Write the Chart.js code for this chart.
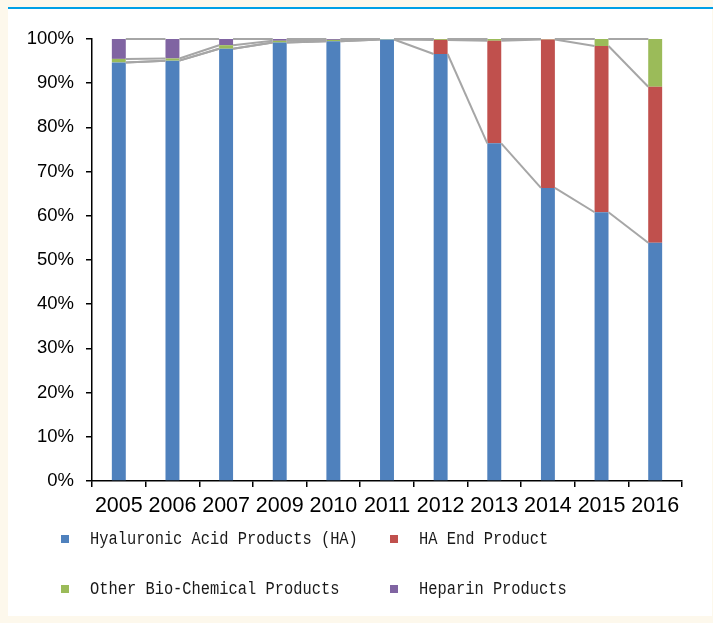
<!DOCTYPE html>
<html>
<head>
<meta charset="utf-8">
<script src="https://cdn.jsdelivr.net/npm/chart.js@4/dist/chart.umd.min.js"></script>
<style>
  html, body { margin: 0; padding: 0; background: #fdf8ec; }
  #wrap { position: relative; width: 713px; height: 623px; overflow: hidden; }
  #panel { position: absolute; left: 8px; top: 8px; width: 704px; height: 608px; background: #ffffff; }
  #rule { position: absolute; left: 8px; top: 7px; width: 705px; height: 2px; background: #00a0e6; }
  #chart { position: absolute; left: 0; top: 0; }
  #legend { position: absolute; left: 0; top: 0; width: 713px; height: 623px; pointer-events: none; }
  .item { position: absolute; height: 20px; }
  .box { position: absolute; width: 8px; height: 8px; top: 6px; left: 0; }
  .txt { position: absolute; top: 0; white-space: pre; font-family: "Liberation Mono", "DejaVu Sans Mono", monospace;
         font-size: 15.4px; line-height: 20px; color: #1a1a1a; transform: scaleY(1.18); transform-origin: 0 50%; }
</style>
</head>
<body>
<div id="wrap">
  <div id="panel"></div>
  <div id="rule"></div>
  <canvas id="chart" width="713" height="623"></canvas>
  <div id="legend"></div>
</div>
<script>
// Years shown on the category axis
const years = ['2005', '2006', '2007', '2009', '2010', '2011', '2012', '2013', '2014', '2015', '2016'];

// Share of revenue by product line (%)
const hyaluronicAcid = [94.7, 95.1, 97.8, 99.2, 99.5, 99.9, 96.6, 76.4, 66.3, 60.8, 53.9];
const haEndProduct   = [0, 0, 0, 0, 0, 0, 3.2, 23.2, 33.6, 37.6, 35.3];
const otherBioChem   = [0.8, 0.5, 0.8, 0.4, 0.3, 0.1, 0.2, 0.4, 0.1, 1.6, 10.8];
const heparin        = [4.5, 4.4, 1.4, 0.4, 0.2, 0, 0, 0, 0, 0, 0];

const seriesNames  = ['Hyaluronic Acid Products (HA)', 'HA End Product', 'Other Bio-Chemical Products', 'Heparin Products'];
const seriesColors = ['#4f81bd', '#c0504d', '#9bbb59', '#8064a2'];
const seriesValues = [hyaluronicAcid, haEndProduct, otherBioChem, heparin];

// Percent axis ticks
const yMin = 0, yMax = 100, yStep = 10;

// Grey connector lines between the tops of each stacked segment of neighbouring bars
const seriesLines = {
  id: 'seriesLines',
  afterDatasetsDraw(chart) {
    const ctx = chart.ctx;
    ctx.save();
    ctx.strokeStyle = '#a6a6a6';
    ctx.lineWidth = 2;
    chart.data.datasets.forEach((ds, d) => {
      const bars = chart.getDatasetMeta(d).data;
      for (let i = 0; i < bars.length - 1; i++) {
        const a = bars[i], b = bars[i + 1];
        ctx.beginPath();
        ctx.moveTo(a.x + a.width / 2, a.y);
        ctx.lineTo(b.x - b.width / 2, b.y);
        ctx.stroke();
      }
    });
    ctx.restore();
  }
};

// Two-column legend placed under the axis
const gridLegend = {
  id: 'gridLegend',
  afterUpdate(chart) {
    const host = document.getElementById('legend');
    host.innerHTML = '';
    const cols = [61, 390], rows = [529, 579], textOffset = 29;
    chart.data.datasets.forEach((ds, i) => {
      const item = document.createElement('div');
      item.className = 'item';
      item.style.left = cols[i % 2] + 'px';
      item.style.top = rows[Math.floor(i / 2)] + 'px';
      const box = document.createElement('span');
      box.className = 'box';
      box.style.background = ds.backgroundColor;
      const txt = document.createElement('span');
      txt.className = 'txt';
      txt.style.left = textOffset + 'px';
      txt.textContent = ds.label;
      item.appendChild(box);
      item.appendChild(txt);
      host.appendChild(item);
    });
  }
};

new Chart(document.getElementById('chart'), {
  type: 'bar',
  data: {
    labels: years,
    datasets: seriesValues.map((vals, i) => ({
      label: seriesNames[i],
      data: vals,
      backgroundColor: seriesColors[i],
      borderWidth: 0,
      categoryPercentage: 1,
      barPercentage: 0.26
    }))
  },
  options: {
    responsive: false,
    animation: false,
    layout: { padding: { left: 0, top: 39, right: 31, bottom: 102 } },
    plugins: {
      legend: { display: false },
      tooltip: { enabled: false }
    },
    scales: {
      x: {
        stacked: true,
        afterFit(scale) { scale.height = 40; },
        grid: { display: true, offset: true, drawOnChartArea: false, drawTicks: true, tickLength: 6, color: '#000000', lineWidth: 1.5 },
        border: { display: true, color: '#000000', width: 1.5 },
        ticks: {
          color: '#000000',
          padding: 6,
          maxRotation: 0,
          autoSkip: false,
          font: { family: '"Liberation Sans", Arial, sans-serif', size: 21.5 }
        }
      },
      y: {
        stacked: true,
        min: yMin,
        max: yMax,
        afterFit(scale) { scale.width = 92; },
        grid: { display: true, drawOnChartArea: false, drawTicks: true, tickLength: 6, color: '#000000', lineWidth: 1.5 },
        border: { display: true, color: '#000000', width: 1.5 },
        ticks: {
          stepSize: yStep,
          color: '#000000',
          padding: 12,
          font: { family: '"Liberation Sans", Arial, sans-serif', size: 18.5 },
          callback: v => v + '%'
        }
      }
    }
  },
  plugins: [seriesLines, gridLegend]
});
</script>
</body>
</html>
